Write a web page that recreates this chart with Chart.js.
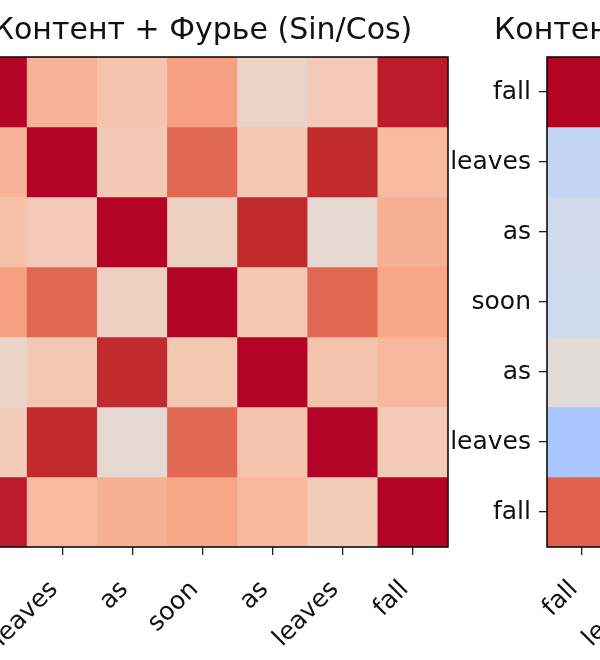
<!DOCTYPE html>
<html>
<head>
<meta charset="utf-8">
<script src="https://cdn.jsdelivr.net/npm/chart.js@4.4.1/dist/chart.umd.min.js"></script>
<style>
  html, body { margin: 0; padding: 0; width: 600px; height: 660px; overflow: hidden; background: #fff; }
  #leftChart { position: absolute; left: -150px; top: 0; }
  #rightChart { position: absolute; left: 400px; top: 0; }
</style>
</head>
<body>
<canvas id="leftChart" width="620" height="660"></canvas>
<canvas id="rightChart" width="720" height="660"></canvas>
<script>
// data ########################################################################

var words = ["fall", "leaves", "as", "soon", "as", "leaves", "fall"];

var leftTitle = "Контент + Фурье (Sin/Cos)";
var rightTitle = "Контент + Обучаемые позиции";

// similarity, content + fourier (rows top to bottom)
var fourierRows = [
    [1.00, 0.36, 0.25, 0.47, 0.12, 0.20, 0.96],
    [0.36, 1.00, 0.21, 0.72, 0.23, 0.93, 0.31],
    [0.27, 0.20, 1.00, 0.15, 0.93, 0.06, 0.38],
    [0.47, 0.72, 0.15, 1.00, 0.23, 0.72, 0.44],
    [0.12, 0.22, 0.93, 0.23, 1.00, 0.25, 0.33],
    [0.19, 0.93, 0.06, 0.72, 0.25, 1.00, 0.20],
    [0.96, 0.31, 0.38, 0.44, 0.33, 0.19, 1.00]
];

// second panel, only the first column is visible
var secondCol0 = [1.00, -0.18, -0.10, -0.12, 0.03, -0.34, 0.75];

// coolwarm colormap ##########################################################

var CW = [
    [59,76,192],[68,90,204],[77,104,215],[87,117,225],[98,130,234],[108,142,241],
    [119,154,247],[130,165,251],[141,176,254],[152,185,255],[163,194,255],[174,201,253],
    [184,208,249],[194,213,244],[204,217,238],[213,219,230],[221,221,221],[229,216,209],
    [236,211,197],[241,204,185],[245,196,173],[247,187,160],[247,177,148],[247,166,135],
    [244,154,123],[241,141,111],[236,127,99],[229,112,88],[222,96,77],[213,80,66],
    [203,62,56],[192,40,47],[180,4,38]
];
function coolwarm(v) {
    var t = Math.min(1, Math.max(0, (v + 1) / 2)) * (CW.length - 1);
    var i = Math.min(CW.length - 2, Math.floor(t));
    var f = t - i;
    var c = CW[i].map(function (a, k) { return Math.round(a + (CW[i + 1][k] - a) * f); });
    return "rgb(" + c.join(",") + ")";
}

// helpers ####################################################################

Chart.defaults.font.family = "'DejaVu Sans', sans-serif";
Chart.defaults.color = "#111";

// black box round the cells
var frame = {
    id: "frame",
    afterDatasetsDraw: function (chart) {
        var ctx = chart.ctx, a = chart.chartArea;
        ctx.save();
        ctx.strokeStyle = "#000";
        ctx.lineWidth = 1.5;
        ctx.strokeRect(a.left, a.top, a.right - a.left, a.bottom - a.top);
        ctx.restore();
    }
};

// lets the title start somewhere else than the axis box
var titleShift = {
    id: "titleShift",
    afterLayout: function (chart, args, opts) {
        if (opts && opts.left !== undefined && chart.titleBlock) {
            chart.titleBlock.left = opts.left;
        }
    }
};

function rowsToDatasets(matrix) {
    return matrix.map(function (row, r) {
        return {
            data: row.map(function (v) { return v === null ? null : [r, r + 1]; }),
            backgroundColor: row.map(function (v) { return v === null ? "rgba(0,0,0,0)" : coolwarm(v); }),
            borderWidth: 0,
            barPercentage: 1,
            categoryPercentage: 1,
            grouped: false
        };
    });
}

function makeHeatmap(canvasId, matrix, title, opts) {
    return new Chart(document.getElementById(canvasId), {
        type: "bar",
        data: { labels: words, datasets: rowsToDatasets(matrix) },
        plugins: [frame, titleShift],
        options: {
            responsive: false,
            animation: false,
            layout: { padding: opts.padding },
            plugins: {
                legend: { display: false },
                tooltip: { enabled: false },
                titleShift: { left: opts.titleLeft },
                title: {
                    display: true,
                    text: title,
                    fullSize: opts.titleFull,
                    align: opts.titleAlign,
                    color: "#111",
                    font: { size: 30, weight: "normal", lineHeight: 1.2 },
                    padding: { top: 13, bottom: 8 }
                }
            },
            scales: {
                x: {
                    type: "category",
                    offset: true,
                    grid: { offset: false, drawOnChartArea: false, tickLength: 8, color: "#222", lineWidth: 1.3 },
                    border: { display: false },
                    ticks: {
                        autoSkip: false, minRotation: 45, maxRotation: 45,
                        padding: 20, labelOffset: -8,
                        font: { size: 25 }, color: "#111"
                    },
                    afterFit: function (s) { s.height = 113; }
                },
                y: {
                    type: "linear",
                    min: 0,
                    max: 7,
                    reverse: true,
                    grid: { drawOnChartArea: false, tickLength: 8, color: "#222", lineWidth: 1.3 },
                    border: { display: false },
                    afterBuildTicks: function (s) {
                        s.ticks = words.map(function (w, i) { return { value: i + 0.5 }; });
                    },
                    ticks: {
                        autoSkip: false,
                        padding: 8,
                        font: { size: 25 },
                        color: "#111",
                        callback: function (value, index) { return words[index]; }
                    },
                    afterFit: function (s) { s.width = opts.yWidth; }
                }
            }
        }
    });
}

// charts #####################################################################

var leftChart = makeHeatmap("leftChart", fourierRows, leftTitle, {
    padding: { left: 0, right: 22, top: 0, bottom: 0 },
    yWidth: 107,
    titleFull: false,
    titleAlign: "center"
});

var secondRows = words.map(function (w, r) {
    return words.map(function (w2, c) { return c === 0 ? secondCol0[r] : null; });
});
var rightChart = makeHeatmap("rightChart", secondRows, rightTitle, {
    padding: { left: 0, right: 82, top: 0, bottom: 0 },
    yWidth: 147,
    titleFull: true,
    titleAlign: "start",
    titleLeft: 94
});
</script>
</body>
</html>
